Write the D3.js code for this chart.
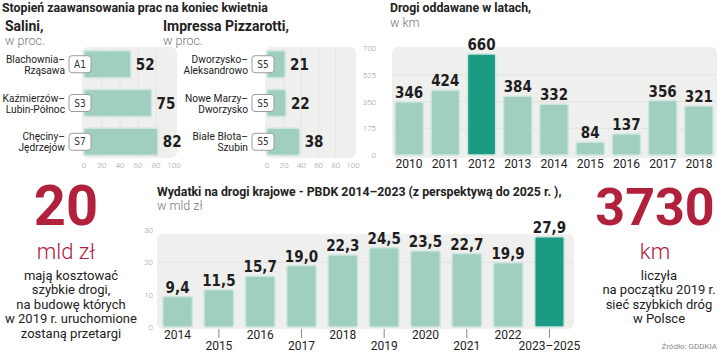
<!DOCTYPE html>
<html>
<head>
<meta charset="utf-8">
<script src="https://cdn.jsdelivr.net/npm/d3@7"></script>
<style>
  body { margin: 0; background: #fff; }
  svg { display: block; font-family: Roboto, "Open Sans", sans-serif; }
  .tick-lbl { font-size: 8px; fill: #9a9a9a; font-weight: 300; }
  .val { font-family: "Liberation Sans Narrow", "DejaVu Sans Condensed", Roboto, sans-serif; font-weight: 700; fill: #1e1e1e; }
  .ttl { font-weight: 700; fill: #222; font-size: 12.3px; }
  .sub { font-weight: 300; fill: #777; font-size: 12.5px; }
</style>
</head>
<body>
<svg id="chart" width="720" height="352"></svg>
<script>
// --- data ---
let saliniRoads = [["Blachownia–", "Rząsawa"], ["Kaźmierzów–", "Lubin-Północ"], ["Chęciny–", "Jędrzejów"]]
let saliniCodes = ["A1", "S3", "S7"]
let saliniValues = [52, 75, 82]

let pizzRoads = [["Dworzysko–", "Aleksandrowo"], ["Nowe Marzy–", "Dworzysko"], ["Białe Błota–", "Szubin"]]
let pizzCodes = ["S5", "S5", "S5"]
let pizzValues = [21, 22, 38]

let pctTicks = [0, 20, 40, 60, 80, 100]

let roadYears = ["2010", "2011", "2012", "2013", "2014", "2015", "2016", "2017", "2018"]
let roadKm = [346, 424, 660, 384, 332, 84, 137, 356, 321]
let roadTicks = [0, 175, 350, 525, 700]

let spendYears = ["2014", "2015", "2016", "2017", "2018", "2019", "2020", "2021", "2022", "2023–2025"]
let spendValues = [9.4, 11.5, 15.7, 19.0, 22.3, 24.5, 23.5, 22.7, 19.9, 27.9]
let spendTicks = [0, 10, 20, 30]

let leftNote = ["mają kosztować", "szybkie drogi,", "na budowę których", "w 2019 r. uruchomione", "zostaną przetargi"]
let rightNote = ["liczyła", "na początku 2019 r.", "sieć szybkich dróg", "w Polsce"]

const RED = "#b1213b"
const BAR = "#a0cec1"
const BAR_EDGE = "#cde6de"
const HI = "#1b9a84"
const PANEL = "#efefee"
const GRID = "#e2e2e1"

let svg = d3.select("#chart")
let fmt = d3.format(".1f")
let comma = v => fmt(v).replace(".", ",")

// main title
svg.append("text").attr("class", "ttl").attr("x", 2).attr("y", 12)
  .text("Stopień zaawansowania prac na koniec kwietnia")

// --- horizontal percent panels ---
function hPanel(opts) {
  let g = svg.append("g")
  g.append("text").attr("class", "ttl").attr("x", opts.titleX).attr("y", 31)
    .style("font-size", "14px").text(opts.title)
  g.append("text").attr("class", "sub").attr("x", opts.titleX).attr("y", 45).text("w proc.")

  let x = d3.scaleLinear().domain([0, 100]).range([opts.x0, opts.x1])
  let y = d3.scaleBand().domain(d3.range(opts.values.length)).range([46, 160]).paddingInner(0.3).paddingOuter(0.12)

  g.append("rect").attr("x", opts.x0 - 2).attr("y", 47).attr("width", opts.x1 - opts.x0 + 5)
    .attr("height", 111).attr("rx", 6).attr("fill", PANEL)

  g.selectAll(".vgrid").data(pctTicks.slice(1, -1)).join("line")
    .attr("x1", d => x(d)).attr("x2", d => x(d)).attr("y1", 48).attr("y2", 157)
    .attr("stroke", GRID).attr("stroke-width", 1)

  g.selectAll(".bar").data(opts.values).join("rect")
    .attr("x", x(0)).attr("y", (d, i) => y(i))
    .attr("width", d => x(d) - x(0)).attr("height", y.bandwidth())
    .attr("rx", 2).attr("fill", BAR).attr("stroke", BAR_EDGE).attr("stroke-width", 1.5)

  g.selectAll(".v").data(opts.values).join("text").attr("class", "val")
    .attr("x", d => x(d) + 5).attr("y", (d, i) => y(i) + y.bandwidth() / 2 + 5.5)
    .style("font-size", "15px").text(d => d)

  opts.codes.forEach((c, i) => {
    let cy = y(i) + y.bandwidth() / 2
    g.append("rect").attr("x", x(0) - 15).attr("y", cy - 8.5).attr("width", 22).attr("height", 17)
      .attr("rx", 3).attr("fill", "#fff").attr("stroke", "#9c9c9c").attr("stroke-width", 1)
    g.append("text").attr("x", x(0) - 4).attr("y", cy + 3.5).attr("text-anchor", "middle")
      .style("font-size", "10px").style("fill", "#333")
      .style("font-family", "'Liberation Sans Narrow', 'DejaVu Sans Condensed', Roboto, sans-serif")
      .text(c)
    let t = g.append("text").attr("x", x(0) - 19).attr("y", cy - 1.5).attr("text-anchor", "end")
      .style("font-size", "10.2px").style("fill", "#222")
    opts.roads[i].forEach((line, j) => {
      t.append("tspan").attr("x", x(0) - 19).attr("dy", j === 0 ? 0 : 11).text(line)
    })
  })

  g.selectAll(".tl").data(pctTicks).join("text").attr("class", "tick-lbl")
    .attr("x", d => x(d)).attr("y", 168).attr("text-anchor", "middle").text(d => d)
}

hPanel({ title: "Salini,", titleX: 5, x0: 84, x1: 174, values: saliniValues, codes: saliniCodes, roads: saliniRoads })
hPanel({ title: "Impressa Pizzarotti,", titleX: 163, x0: 267, x1: 353, values: pizzValues, codes: pizzCodes, roads: pizzRoads })

// --- Drogi oddawane w latach ---
{
  let g = svg.append("g")
  g.append("text").attr("class", "ttl").attr("x", 390).attr("y", 12).text("Drogi oddawane w latach,")
  g.append("text").attr("class", "sub").attr("x", 390).attr("y", 27).text("w km")

  let x = d3.scaleBand().domain(roadYears).range([387, 721]).padding(0.22)
  let y = d3.scaleLinear().domain([0, 700]).range([155, 48])

  g.append("rect").attr("x", 392).attr("y", 47).attr("width", 325).attr("height", 111)
    .attr("rx", 6).attr("fill", PANEL)
  g.selectAll(".hg").data(roadTicks.slice(1, -1)).join("line")
    .attr("x1", 393).attr("x2", 716).attr("y1", d => y(d)).attr("y2", d => y(d))
    .attr("stroke", GRID)

  g.selectAll(".tl").data(roadTicks).join("text").attr("class", "tick-lbl")
    .attr("x", 376).attr("y", d => y(d) + 3).attr("text-anchor", "end").text(d => d)

  g.selectAll(".bar").data(roadKm).join("rect")
    .attr("x", (d, i) => x(roadYears[i])).attr("y", d => y(d))
    .attr("width", x.bandwidth()).attr("height", d => y(0) - y(d)).attr("rx", 2)
    .attr("fill", (d, i) => roadYears[i] === "2012" ? HI : BAR)
    .attr("stroke", BAR_EDGE).attr("stroke-width", 1.5)

  g.selectAll(".v").data(roadKm).join("text").attr("class", "val")
    .attr("x", (d, i) => x(roadYears[i]) + x.bandwidth() / 2).attr("y", d => y(d) - 4)
    .attr("text-anchor", "middle").style("font-size", "15px").text(d => d)

  g.selectAll(".yr").data(roadYears).join("text")
    .attr("x", d => x(d) + x.bandwidth() / 2).attr("y", 168).attr("text-anchor", "middle")
    .style("font-size", "12px").style("fill", "#222").text(d => d)
}

// --- Wydatki na drogi krajowe ---
{
  let g = svg.append("g")
  g.append("text").attr("class", "ttl").attr("x", 157).attr("y", 196)
    .text("Wydatki na drogi krajowe - PBDK 2014–2023 (z perspektywą do 2025 r. ),")
  g.append("text").attr("class", "sub").attr("x", 157).attr("y", 210).text("w mld zł")

  let x = d3.scaleBand().domain(spendYears).range([151, 576]).padding(0.286)
  let y = d3.scaleLinear().domain([0, 30]).range([327, 230])

  g.append("rect").attr("x", 157).attr("y", 234).attr("width", 417).attr("height", 95)
    .attr("rx", 6).attr("fill", PANEL)
  g.selectAll(".hg").data([20]).join("line")
    .attr("x1", 158).attr("x2", 573).attr("y1", d => y(d)).attr("y2", d => y(d))
    .attr("stroke", GRID)

  g.selectAll(".tl").data(spendTicks).join("text").attr("class", "tick-lbl")
    .attr("x", 153).attr("y", d => y(d) + 3).attr("text-anchor", "end").text(d => d)

  g.selectAll(".bar").data(spendValues).join("rect")
    .attr("x", (d, i) => x(spendYears[i])).attr("y", d => y(d))
    .attr("width", x.bandwidth()).attr("height", d => y(0) - y(d)).attr("rx", 2)
    .attr("fill", (d, i) => i === spendYears.length - 1 ? HI : BAR)
    .attr("stroke", BAR_EDGE).attr("stroke-width", 1.5)

  g.selectAll(".v").data(spendValues).join("text").attr("class", "val")
    .attr("x", (d, i) => x(spendYears[i]) + x.bandwidth() / 2).attr("y", d => y(d) - 4)
    .attr("text-anchor", "middle").style("font-size", "15px").text(d => comma(d))

  g.selectAll(".tk").data(spendYears.filter((d, i) => i % 2 === 1)).join("line")
    .attr("x1", d => x(d) + x.bandwidth() / 2).attr("x2", d => x(d) + x.bandwidth() / 2)
    .attr("y1", 329).attr("y2", 338).attr("stroke", "#888")

  g.selectAll(".yr").data(spendYears).join("text")
    .attr("x", d => x(d) + x.bandwidth() / 2).attr("y", (d, i) => i % 2 === 0 ? 339 : 350)
    .attr("text-anchor", "middle").style("font-size", "12px").style("fill", "#222").text(d => d)
}

// --- big numbers ---
function bigNote(cxNum, cxText, num, unit, lines, numSize) {
  let g = svg.append("g").attr("text-anchor", "middle")
  g.append("text").attr("x", cxNum).attr("y", 225).style("font-size", numSize + "px")
    .style("font-weight", 700).style("fill", RED).text(num)
  g.append("text").attr("x", cxNum).attr("y", 259).style("font-size", "22px")
    .style("font-weight", 300).style("fill", RED).text(unit)
  g.selectAll(".ln").data(lines).join("text")
    .attr("x", cxText).attr("y", (d, i) => 280 + i * 14.4)
    .style("font-size", "13px").style("fill", "#222").text(d => d)
}
bigNote(66, 71, "20", "mld zł", leftNote, 56)
bigNote(655, 659, "3730", "km", rightNote, 52)

svg.append("text").attr("x", 717).attr("y", 349).attr("text-anchor", "end")
  .style("font-size", "8px").style("fill", "#888").text("Źródło: GDDKIA")
</script>
</body>
</html>
